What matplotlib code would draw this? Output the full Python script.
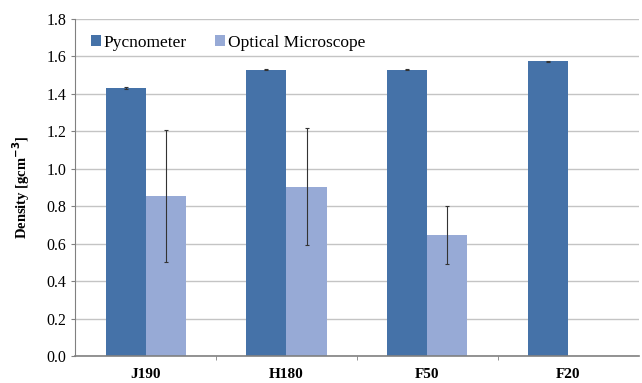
import matplotlib.pyplot as plt
import numpy as np

categories = ["J190", "H180", "F50", "F20"]
pycnometer = [1.43, 1.53, 1.53, 1.575]
pycnometer_err = [0.004, 0.003, 0.003, 0.003]
optical = [0.855, 0.905, 0.645, np.nan]
optical_err = [0.352, 0.312, 0.155, np.nan]

plt.rcParams['font.family'] = ['Liberation Serif', 'DejaVu Serif']

fig = plt.figure(figsize=(6.42, 3.83), dpi=100)
ax = fig.add_axes([0.117, 0.0705, 0.878, 0.88])

x = np.arange(len(categories))
w = 0.284
ax.bar(x - w / 2, pycnometer, w, color='#4572A8', label='Pycnometer', zorder=2,
       yerr=pycnometer_err, error_kw=dict(ecolor='#333333', elinewidth=0.8, capsize=1.5, capthick=0.8))
ax.bar(x + w / 2, optical, w, color='#97AAD6', label='Optical Microscope', zorder=2,
       yerr=optical_err, error_kw=dict(ecolor='#333333', elinewidth=0.8, capsize=1.5, capthick=0.8))

ax.set_xlim(-0.5, len(categories) - 0.5)
ax.set_ylim(0, 1.8)
ax.set_yticks(np.arange(0, 1.81, 0.2))
ax.set_yticklabels([f"{v:.1f}" for v in np.arange(0, 1.81, 0.2)], fontsize=11.5)
ax.set_xticks(x)
ax.set_xticklabels(categories, fontsize=11, fontweight='bold')
ax.set_xticks(np.arange(0.5, len(categories) - 0.5, 1), minor=True)
ax.tick_params(axis='x', which='major', length=0, pad=9)
ax.tick_params(axis='x', which='minor', length=3, color='#808080', direction='out')
ax.tick_params(axis='y', length=3, color='#808080', direction='out')

ax.grid(axis='y', color='#c4c4c4', linewidth=1, zorder=0)
ax.set_axisbelow(True)
for s in ['top', 'right']:
    ax.spines[s].set_visible(False)
ax.spines['left'].set_color('#808080')
ax.spines['bottom'].set_color('#808080')
ax.spines['bottom'].set_linewidth(1.2)

ax.set_ylabel('Density [gcm$^{\\mathbf{-3}}$]', fontsize=10.5, fontweight='bold', labelpad=10)

ax.legend(loc='upper left', bbox_to_anchor=(0.0, 1.0), ncol=2, frameon=False, fontsize=12.5,
          handlelength=0.6, handleheight=0.6, handletextpad=0.15, columnspacing=1.6)

fig.savefig('out.png', dpi=100)
